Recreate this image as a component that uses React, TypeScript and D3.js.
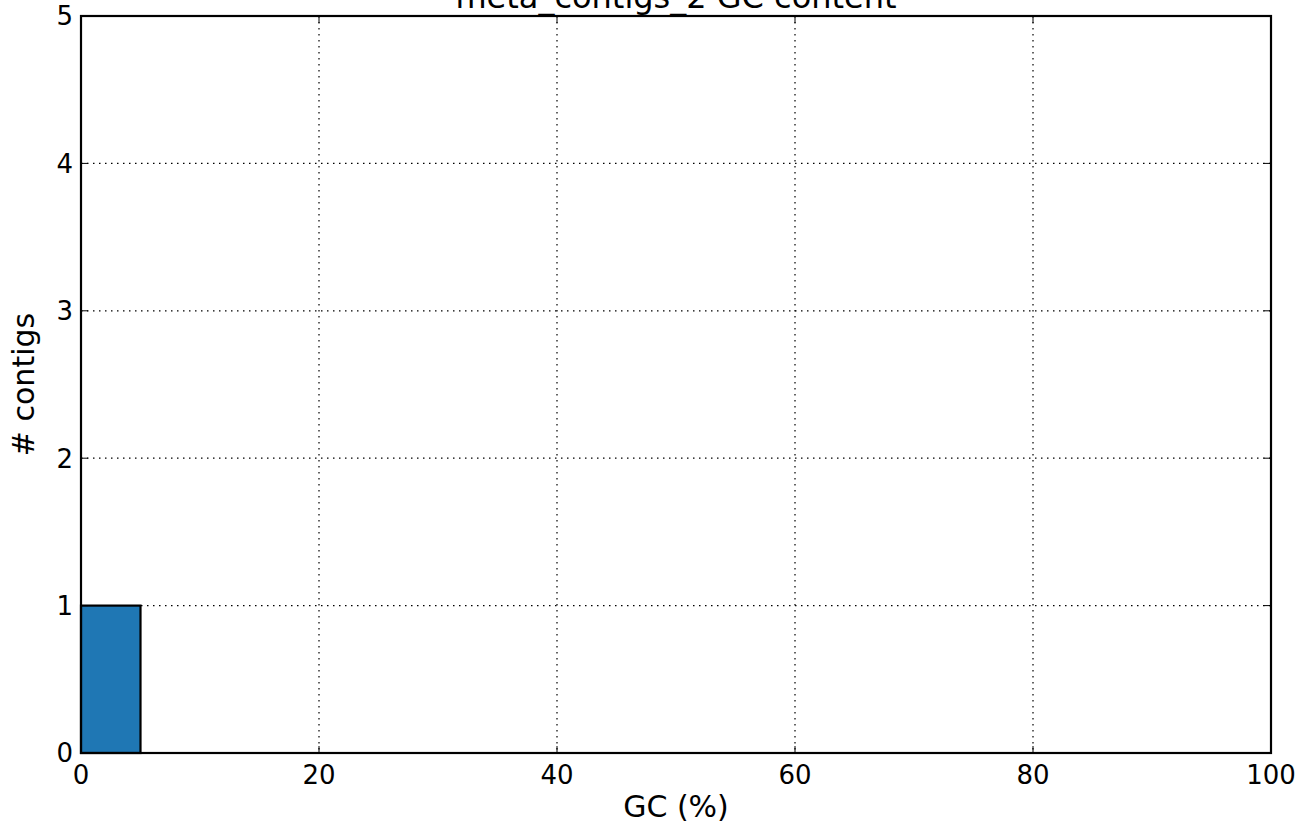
import React from "react";
import * as d3 from "d3";

const title = "meta_contigs_2 GC content";
const xLabel = "GC (%)";
const yLabel = "# contigs";
const binStarts = [0];
const binWidth = 5;
const binCounts = [1];
const xTicks = [0, 20, 40, 60, 80, 100];
const yTicks = [0, 1, 2, 3, 4, 5];

const W = 1315, H = 831;
const M = { left: 81, right: 1271, top: 16, bottom: 753 };
const FONT = "DejaVu Sans, sans-serif";

export default function App() {
  const x = d3.scaleLinear().domain([0, 100]).range([M.left, M.right]);
  const y = d3.scaleLinear().domain([0, 5]).range([M.bottom, M.top]);
  return (
    <svg width={W} height={H} style={{ position: "absolute", left: 0, top: 0, background: "#fff" }}>
      <rect x={0} y={0} width={W} height={H} fill="#fff" />
      {/* grid */}
      {xTicks.slice(1, -1).map((t) => (
        <line key={"gx" + t} x1={x(t)} x2={x(t)} y1={M.top} y2={M.bottom} stroke="#000" strokeWidth={1.2} strokeDasharray="1.5,4.5" />
      ))}
      {yTicks.slice(1, -1).map((t) => (
        <line key={"gy" + t} x1={M.left} x2={M.right} y1={y(t)} y2={y(t)} stroke="#000" strokeWidth={1.2} strokeDasharray="1.5,4.5" />
      ))}
      {/* bars */}
      {binStarts.map((b, i) => (
        <rect key={"b" + i} x={x(b)} y={y(binCounts[i])} width={x(b + binWidth) - x(b)} height={y(0) - y(binCounts[i])} fill="#1f77b4" stroke="#000" strokeWidth={2.2} />
      ))}
      {/* ticks inward */}
      {xTicks.map((t) => (
        <g key={"tx" + t}>
          <line x1={x(t)} x2={x(t)} y1={M.bottom} y2={M.bottom - 7} stroke="#000" strokeWidth={1} />
          <line x1={x(t)} x2={x(t)} y1={M.top} y2={M.top + 7} stroke="#000" strokeWidth={1} />
          <text x={x(t)} y={784} textAnchor="middle" fontFamily={FONT} fontSize={26} fill="#000">{t}</text>
        </g>
      ))}
      {yTicks.map((t) => (
        <g key={"ty" + t}>
          <line x1={M.left} x2={M.left + 7} y1={y(t)} y2={y(t)} stroke="#000" strokeWidth={1} />
          <line x1={M.right} x2={M.right - 7} y1={y(t)} y2={y(t)} stroke="#000" strokeWidth={1} />
          <text x={73} y={y(t)} dy="0.36em" textAnchor="end" fontFamily={FONT} fontSize={26} fill="#000">{t}</text>
        </g>
      ))}
      {/* frame */}
      <rect x={M.left} y={M.top} width={M.right - M.left} height={M.bottom - M.top} fill="none" stroke="#000" strokeWidth={2.2} />
      {/* labels */}
      <text x={(M.left + M.right) / 2} y={8} textAnchor="middle" fontFamily={FONT} fontSize={32} fill="#000">{title}</text>
      <text x={(M.left + M.right) / 2} y={817} textAnchor="middle" fontFamily={FONT} fontSize={30} fill="#000">{xLabel}</text>
      <text transform={`translate(34, ${(M.top + M.bottom) / 2}) rotate(-90)`} textAnchor="middle" fontFamily={FONT} fontSize={30} fill="#000">{yLabel}</text>
    </svg>
  );
}
